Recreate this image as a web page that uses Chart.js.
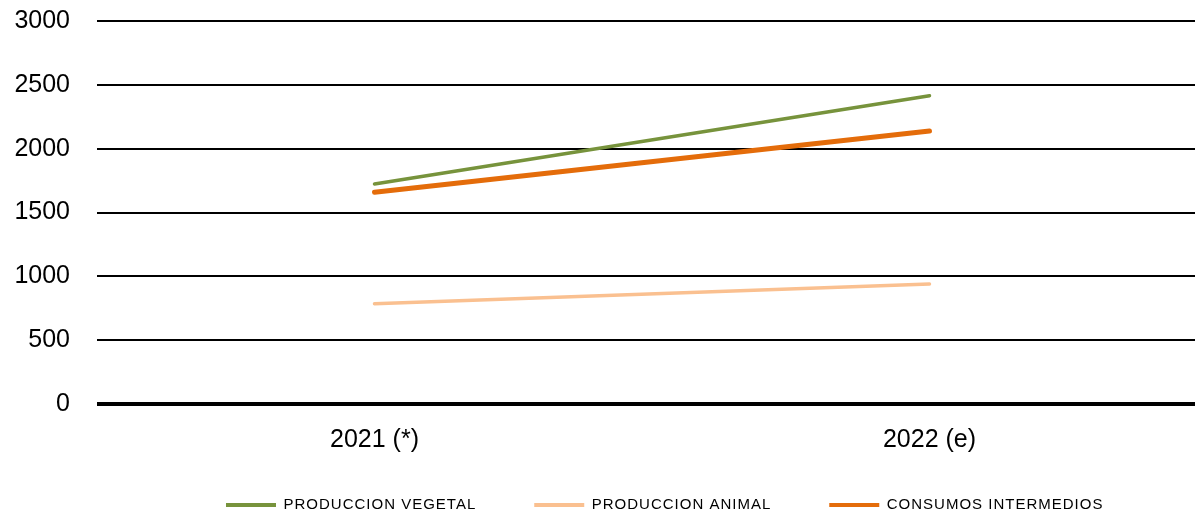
<!DOCTYPE html>
<html>
<head>
<meta charset="utf-8">
<script src="https://cdn.jsdelivr.net/npm/chart.js@4/dist/chart.umd.min.js"></script>
<style>
  html, body { margin: 0; padding: 0; background: #fff; overflow: hidden; }
  #wrap { position: absolute; left: 0; top: 0; width: 1207px; height: 515px; }
</style>
</head>
<body>
<div id="wrap"><canvas id="c" width="1207" height="515"></canvas></div>
<script>
const categories = ['2021 (*)', '2022 (e)'];
const produccionVegetal = [1723, 2415];
const produccionAnimal = [786, 940];
const consumosIntermedios = [1658, 2138];
const seriesNames = ['PRODUCCION VEGETAL', 'PRODUCCION ANIMAL', 'CONSUMOS INTERMEDIOS'];
const yTicks = [0, 500, 1000, 1500, 2000, 2500, 3000];

const FONT = "'Liberation Sans', Arial, sans-serif";

const legendTweak = {
  id: 'legendTweak',
  afterInit(chart) {
    const lg = chart.legend;
    if (!lg) return;
    const protoFit = lg.fit;
    lg.fit = function () {
      const c = this.ctx;
      c.save();
      c.letterSpacing = '1px';
      protoFit.call(this);
      c.restore();
      this.height = 30;
    };
    const protoDraw = lg.draw;
    lg.draw = function (area) {
      const c = this.ctx;
      const pad = this.options.labels.padding;
      const oldTop = this.top, oldLeft = this.left;
      this.top = 497.5 - pad;
      this.left = 226 - pad;
      c.save();
      c.letterSpacing = '1px';
      protoDraw.call(this, area);
      c.restore();
      this.top = oldTop;
      this.left = oldLeft;
    };
  }
};

new Chart(document.getElementById('c'), {
  type: 'line',
  data: {
    labels: categories,
    datasets: [
      { label: seriesNames[0], data: produccionVegetal, borderColor: '#77933C', backgroundColor: '#77933C', borderWidth: 3.5 },
      { label: seriesNames[1], data: produccionAnimal, borderColor: '#FAC090', backgroundColor: '#FAC090', borderWidth: 3.5 },
      { label: seriesNames[2], data: consumosIntermedios, borderColor: '#E46C0A', backgroundColor: '#E46C0A', borderWidth: 5 }
    ]
  },
  options: {
    responsive: false,
    animation: false,
    devicePixelRatio: 1,
    layout: { padding: { top: 21, left: 0, right: 0, bottom: 0 } },
    elements: {
      point: { radius: 0, hoverRadius: 0 },
      line: { tension: 0, borderCapStyle: 'round', fill: false }
    },
    scales: {
      x: {
        offset: true,
        grid: { display: false, drawTicks: false },
        border: { display: false },
        ticks: { color: '#000', font: { family: FONT, size: 25 }, padding: 21, maxRotation: 0 },
        afterFit(scale) { scale.height = 81; scale.paddingLeft = 0; scale.paddingRight = 0; }
      },
      y: {
        min: 0,
        max: 3000,
        afterBuildTicks(scale) { scale.ticks = yTicks.map(v => ({ value: v })); },
        grid: {
          color: '#000',
          drawTicks: false,
          lineWidth: (ctx) => (ctx.tick && ctx.tick.value === 0 ? 4 : 2)
        },
        border: { display: false },
        ticks: { color: '#000', font: { family: FONT, size: 25 }, padding: 27, callback: (v) => String(v) },
        afterFit(scale) { scale.width = 97; scale.paddingTop = 0; scale.paddingBottom = 0; }
      }
    },
    plugins: {
      tooltip: { enabled: false },
      legend: {
        position: 'bottom',
        align: 'start',
        labels: {
          color: '#000',
          font: { family: FONT, size: 15 },
          boxWidth: 50,
          boxHeight: 4,
          padding: 58,
          generateLabels: (chart) => Chart.defaults.plugins.legend.labels.generateLabels(chart).map(l => Object.assign({}, l, { lineWidth: 0 }))
        }
      }
    }
  },
  plugins: [legendTweak]
});
</script>
</body>
</html>
